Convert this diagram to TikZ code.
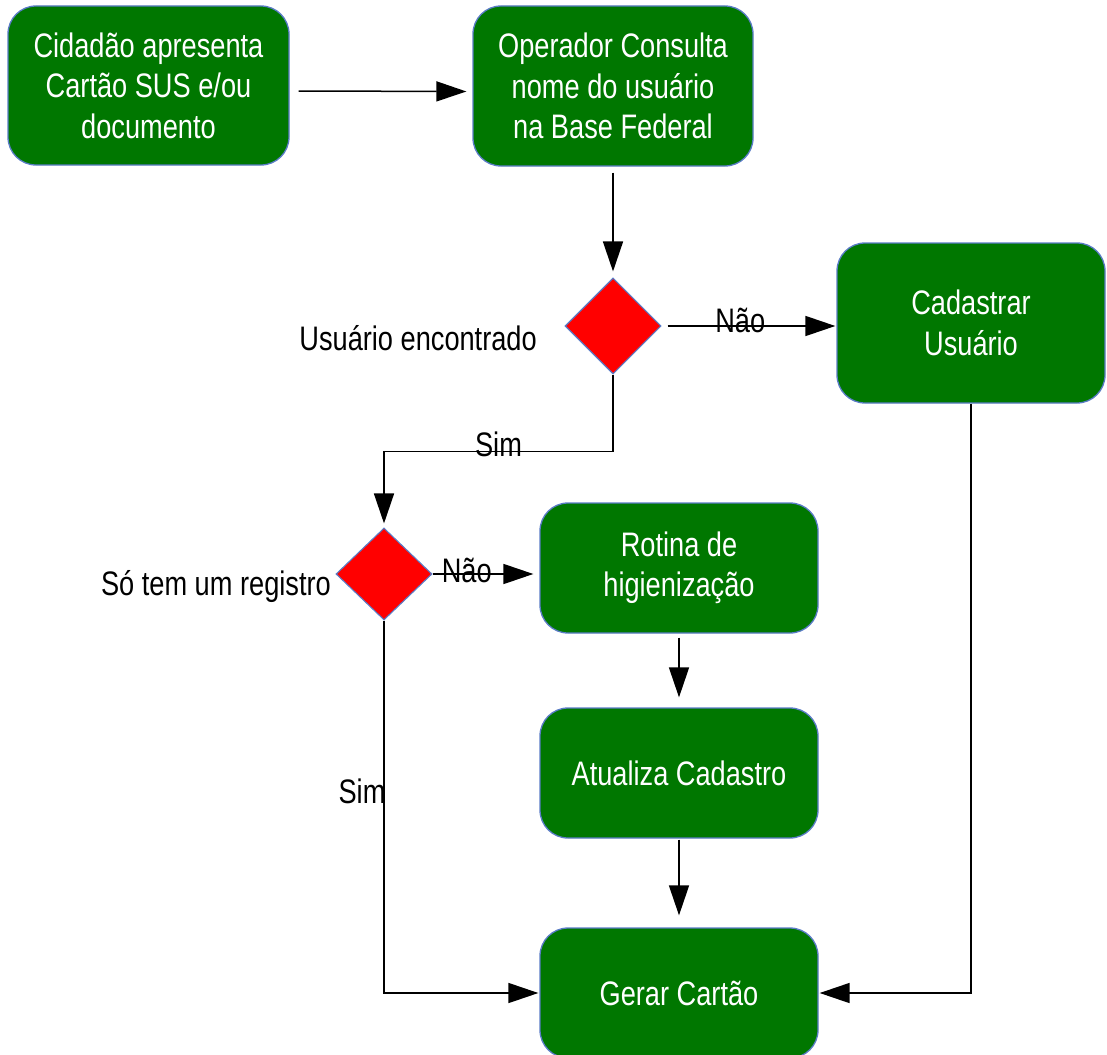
\documentclass[tikz,border=0pt]{standalone}
\usepackage{fontspec}
\setmainfont[FakeStretch=0.8]{Liberation Sans}
\usetikzlibrary{shapes.geometric,arrows.meta,calc}
\definecolor{boxgreen}{HTML}{007700}
\definecolor{edgeblue}{HTML}{5A7CC6}
\definecolor{decred}{HTML}{FF0000}
\begin{document}
\begin{tikzpicture}[x=1pt,y=-1pt,
  procbox/.style={draw=edgeblue, line width=1.3pt, fill=boxgreen, rounded corners=28pt,
    text=white, align=center, inner sep=0pt,
    font=\fontsize{34}{40.5}\selectfont},
  decbox/.style={draw=edgeblue, line width=1.1pt, fill=decred, diamond, aspect=1, inner sep=0pt},
  lbl/.style={inner sep=0pt, text=black, font=\fontsize{34}{40.5}\selectfont},
  arr/.style={draw=black, line width=1.5pt, -{Triangle[length=30pt,width=20pt]}}
]
\useasboundingbox (0,0) rectangle (1107,1054);

\node[procbox, minimum width=281pt, minimum height=159pt] (b1) at (148.5,85.5)
  {Cidadão apresenta\\Cartão SUS e/ou\\documento};
\node[procbox, minimum width=280pt, minimum height=160pt] (b2) at (613,86)
  {Operador Consulta\\nome do usuário\\na Base Federal};
\node[decbox, minimum width=96pt, minimum height=96pt] (d1) at (613,326) {};
\node[procbox, minimum width=268pt, minimum height=160pt] (b3) at (971,323)
  {Cadastrar\\Usuário};
\node[decbox, minimum width=96pt, minimum height=92pt] (d2) at (384,574) {};
\node[procbox, minimum width=278pt, minimum height=130pt] (b4) at (679,568)
  {Rotina de\\higienização};
\node[procbox, minimum width=278pt, minimum height=130pt] (b5) at (679,773)
  {Atualiza Cadastro};
\node[procbox, minimum width=278pt, minimum height=130pt] (b6) at (679,993)
  {Gerar Cartão};

\node[lbl, anchor=base east] (l1) at (537,350) {Usuário encontrado};
\node[lbl, anchor=base east] (l2) at (331,595) {Só tem um registro};

% connectors
\draw[arr, shorten <=9pt, shorten >=6pt] ([yshift=-5.5pt]b1.east) -- ([yshift=-5.5pt]b2.west);
\draw[arr, shorten <=6pt, shorten >=6pt] (b2.south) -- (d1.north);
\draw[arr, shorten <=6pt, shorten >=1pt] (d1.east) -- (d1.east -| b3.west)
  node[lbl, pos=0.45, anchor=base, yshift=-6pt] (n1) {Não};
\draw[arr, shorten >=4pt] (d1.south) -- ++(0,77) coordinate (j1) -| (d2.north)
  node[lbl, pos=0.25, anchor=base, yshift=-5pt] (s1) {Sim};
\draw[arr, shorten >=6pt] (d2.east) -- (d2.east -| b4.west)
  node[lbl, pos=0.32, anchor=base, yshift=-8pt] (n2) {Não};
\draw[arr, shorten <=4pt, shorten >=10pt] (b4.south) -- (b5.north);
\draw[arr, shorten <=1pt, shorten >=12pt] (b5.south) -- (b6.north);
\draw[arr, shorten >=1pt] (d2.south) |- (b6.west);
\draw[arr, shorten >=1pt] (b3.south) |- (b6.east);
\node[lbl, anchor=base] (s2) at (362,803) {Sim};
\end{tikzpicture}
\end{document}
